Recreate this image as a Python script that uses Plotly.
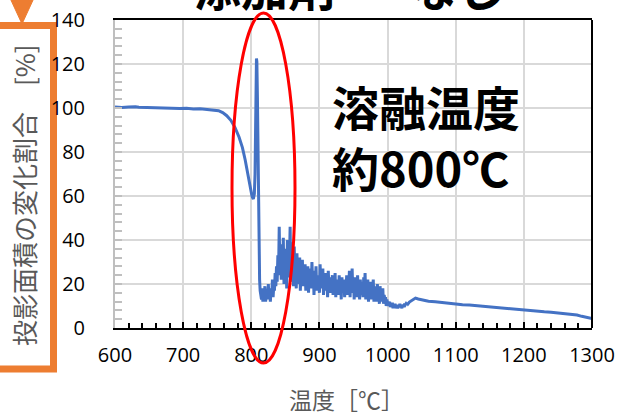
import plotly.graph_objects as go

# --- data ---------------------------------------------------------------
head_temps = [600, 610, 620, 630, 635, 645, 655, 665, 675, 685, 695, 705, 715, 725, 735, 745,
              752, 758, 764, 770, 776, 782, 787, 791, 795, 798, 801, 803, 804.5, 805.5, 806.3,
              807, 807.6, 808.2, 809, 809.8, 810.6, 811.4, 812.2, 813]
head_values = [100.4, 100.2, 100.4, 100.6, 100.3, 100.2, 100.0, 100.1, 99.9, 100.0, 99.8, 99.9,
               99.6, 99.7, 99.4, 99.3,
               98.8, 97.9, 96.5, 94.4, 91.2, 86.8, 82.0, 76.5, 70.0, 64.5, 60.0, 58.6, 61, 70, 95,
               115, 122.5, 121, 105, 80, 55, 35, 22, 17]

# noisy section, read at 1 degC steps from 814 to 1030
noise_temps = list(range(814, 1031))
noise_values = [
    15, 13, 18, 12, 16, 14, 19, 12, 15, 17,
    13, 20, 14, 16, 12, 18, 15, 22, 14, 19,
    17, 25, 19, 28, 21, 33, 24, 46, 26, 38,
    22, 34, 27, 41, 20, 36, 29, 32, 18, 40,
    23, 35, 30, 46, 21, 39, 26, 33, 19, 37,
    24, 30, 18, 34, 22, 28, 20, 32, 17, 27,
    23, 31, 19, 26, 21, 29, 17, 25, 22, 28,
    16, 27, 20, 24, 18, 30, 21, 26, 15, 23,
    19, 28, 17, 24, 20, 22, 16, 29, 18, 25,
    21, 27, 15, 23, 19, 25, 17, 22, 14, 26,
    18, 23, 16, 21, 19, 24, 15, 20, 17, 25,
    14, 22, 18, 20, 15, 24, 17, 21, 13, 23,
    16, 19, 22, 14, 21, 17, 24, 15, 20, 18,
    26, 14, 22, 19, 27, 16, 21, 13, 23, 17,
    20, 14, 24, 16, 19, 13, 22, 15, 18, 21,
    14, 23, 17, 25, 13, 20, 16, 22, 12, 19,
    15, 21, 13, 18, 16, 22, 12, 19, 14, 17,
    12, 20, 15, 17, 11, 19, 13, 16, 12, 18,
    11, 15, 13, 14, 10, 13, 11, 12, 10, 12,
    9.5, 11, 10, 11.5, 9, 10.5, 9.5, 11, 9, 10,
    10.5, 9, 10, 9.5, 11, 9.5, 10, 9, 10.5, 10,
    10, 11, 10.5, 11, 10.5, 11.5, 11,
]

tail_temps = [1032, 1035, 1038, 1041, 1045, 1050, 1060, 1070, 1080, 1090,
              1100, 1110, 1120, 1130, 1140, 1150, 1160, 1170, 1180, 1190, 1200, 1210, 1220, 1230,
              1240, 1250, 1260, 1270, 1278, 1285, 1292, 1300]
tail_values = [11.8, 12.5, 13.2, 13.6, 13.2, 12.8, 12.2, 11.9, 11.5, 11.2,
               10.9, 10.6, 10.4, 10.1, 9.8, 9.5, 9.3, 9.0, 8.7, 8.4, 8.1, 7.9, 7.6, 7.4,
               7.2, 6.9, 6.7, 6.4, 5.9, 5.3, 4.8, 4.3]

temps = head_temps + noise_temps + tail_temps
area_ratio = head_values + noise_values + tail_values

x_ticks = [600, 700, 800, 900, 1000, 1100, 1200, 1300]
y_ticks = [0, 20, 40, 60, 80, 100, 120, 140]

# --- layout helpers -----------------------------------------------------
W, H = 619, 413
L, R, T, B = 115, 27, 20, 85
PW, PH = W - L - R, H - T - B


def px(x):
    return (x - L) / PW


def py(y):
    return (H - B - y) / PH


fig = go.Figure()
fig.add_trace(go.Scatter(x=temps, y=area_ratio, mode="lines",
                         line=dict(color="#4472C4", width=3), showlegend=False))

tick_font = dict(family="Open Sans", size=20, color="#000000")

fig.update_layout(
    width=W, height=H,
    margin=dict(l=L, r=R, t=T, b=B, autoexpand=False),
    paper_bgcolor="white", plot_bgcolor="white",
    xaxis=dict(range=[600, 1300], tickvals=x_ticks, ticktext=[str(v) for v in x_ticks],
               automargin=False,
               showgrid=True, gridcolor="#d9d9d9", gridwidth=2, zeroline=False,
               showline=True, linecolor="black", linewidth=2, mirror=True,
               ticks="inside", ticklen=6, tickcolor="black", tickwidth=2,
               minor=dict(dtick=20, ticks="inside", ticklen=5, tickcolor="black", tickwidth=2,
                          showgrid=False),
               tickfont=tick_font, ticklabelstandoff=8),
    yaxis=dict(range=[0, 140], tickvals=y_ticks, ticktext=[str(v) for v in y_ticks],
               automargin=False,
               showgrid=True, gridcolor="#d9d9d9", gridwidth=2, zeroline=False,
               showline=True, linecolor="#bfbfbf", linewidth=2,
               ticks="inside", ticklen=7, tickcolor="#bfbfbf", tickwidth=2,
               minor=dict(dtick=4, ticks="inside", ticklen=7, tickcolor="#bfbfbf", tickwidth=2,
                          showgrid=False),
               tickfont=tick_font, ticklabelstandoff=24),
)

shapes = [
    dict(type="line", xref="paper", yref="paper", x0=1, x1=1, y0=0, y1=1,
         line=dict(color="black", width=2)),
    dict(type="circle", xref="paper", yref="paper",
         x0=px(232), x1=px(295), y0=py(363), y1=py(13),
         line=dict(color="red", width=3)),
    dict(type="rect", xref="paper", yref="paper", layer="below",
         x0=px(-10), x1=px(53.5), y0=py(369), y1=py(25.5),
         line=dict(color="#ED7D31", width=7)),
    dict(type="path", xref="paper", yref="paper", layer="below",
         path=f"M {px(10)},{py(-2)} L {px(34)},{py(-2)} L {px(22)},{py(24)} Z",
         fillcolor="#ED7D31", line=dict(color="#ED7D31", width=1)),
]
fig.update_layout(shapes=shapes)

big_font = dict(family="Noto Sans CJK JP", size=47, color="black", weight="bold")
annotations = [
    dict(text="溶融温度<br>約800℃", xref="paper", yref="paper", x=px(330), y=py(136),
         xanchor="left", yanchor="middle", align="left", showarrow=False, font=big_font),
    dict(text="添加剤", xref="paper", yref="paper", x=px(264), y=py(-14),
         xanchor="center", yanchor="middle", showarrow=False, font=big_font),
    dict(text="なし", xref="paper", yref="paper", x=px(408), y=py(-14),
         xanchor="left", yanchor="middle", showarrow=False, font=big_font),
    dict(text="投影面積の変化割合　[%]", xref="paper", yref="paper", x=px(24), y=py(195),
         xanchor="center", yanchor="middle", textangle=-90, showarrow=False,
         font=dict(family="Noto Sans CJK JP", size=26, color="#595959")),
    dict(text="温度［℃］", xref="paper", yref="paper", x=px(346), y=py(399),
         xanchor="center", yanchor="middle", showarrow=False,
         font=dict(family="Noto Sans CJK JP", size=23, color="#595959")),
]
fig.update_layout(annotations=annotations)

fig.write_html("out.html", config={"displayModeBar": False},
               post_script="document.body.style.margin='0';document.body.style.overflow='hidden';")
